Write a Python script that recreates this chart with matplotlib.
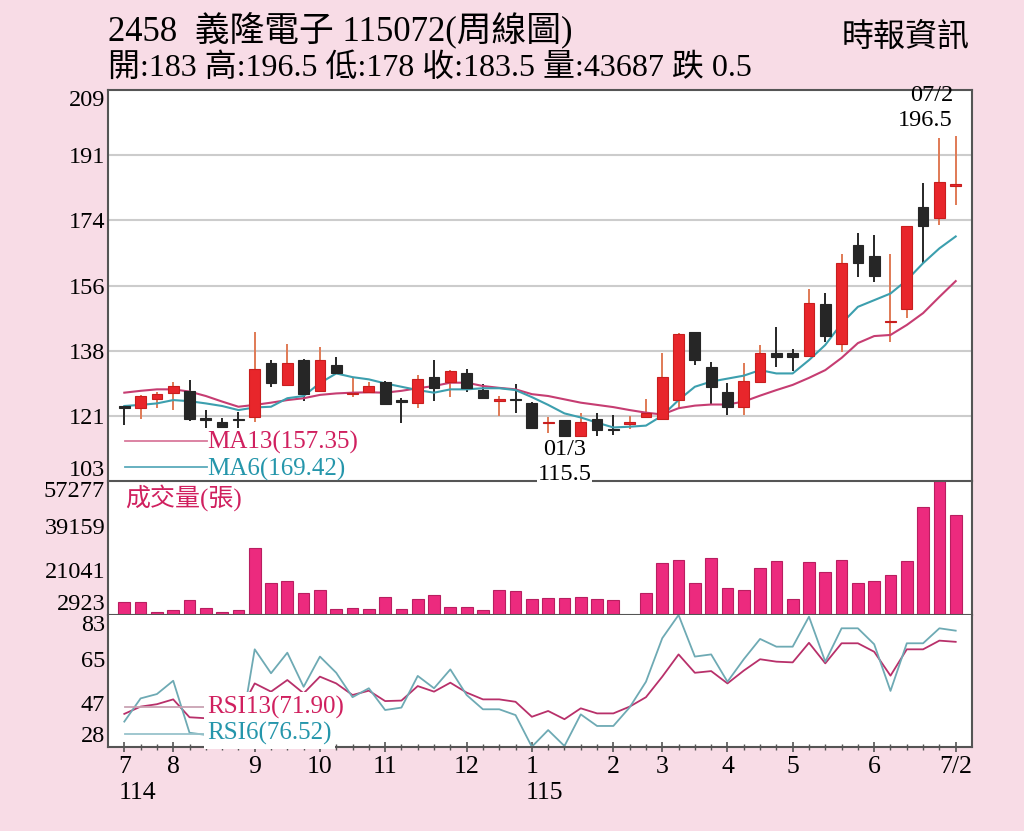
import numpy as np
import matplotlib
matplotlib.use('Agg')
import matplotlib.pyplot as plt

plt.rcParams['font.family'] = ['Liberation Serif', 'Noto Sans CJK TC']

# weekly candles (114/07 .. 115/07 week 2)
opens = [123.5, 123.1, 125.6, 127.0, 127.6, 120.2, 119.4, 120.0, 120.7, 135.1,
         129.3, 136.0, 127.6, 134.7, 126.8, 127.5, 130.0, 125.3, 124.5, 131.5,
         130.0, 132.6, 127.9, 125.0, 125.5, 124.4, 119.0, 119.8, 115.6, 120.0,
         117.2, 118.8, 120.5, 120.1, 125.2, 143.7, 134.1, 127.5, 123.4, 130.2,
         137.8, 137.8, 137.1, 151.2, 140.4, 167.1, 164.1, 146.2, 149.7, 177.3,
         174.3, 183.0]
highs = [123.7, 126.5, 127.5, 130.1, 130.6, 122.5, 120.3, 122.1, 143.7, 136.0,
         140.4, 136.2, 139.6, 136.8, 131.2, 130.2, 130.3, 125.7, 132.0, 136.0,
         133.3, 133.5, 129.5, 126.3, 129.5, 124.7, 120.5, 119.8, 121.6, 121.6,
         121.2, 120.8, 125.4, 138.0, 143.4, 143.7, 135.6, 129.9, 135.1, 140.1,
         145.0, 138.9, 155.1, 154.1, 164.7, 170.3, 169.8, 164.7, 172.2, 183.9,
         196.0, 196.5]
lows = [118.5, 120.0, 123.0, 122.5, 119.6, 117.6, 117.6, 117.6, 119.4, 128.8,
        129.3, 125.0, 127.5, 132.4, 126.0, 127.2, 124.1, 118.9, 123.0, 125.0,
        126.1, 127.5, 125.5, 120.9, 121.8, 117.6, 116.2, 115.5, 115.6, 115.6,
        115.7, 117.3, 120.5, 120.1, 123.0, 134.7, 123.9, 121.2, 121.2, 130.2,
        134.1, 133.1, 137.1, 141.0, 138.3, 158.5, 157.0, 141.0, 147.3, 162.3,
        172.5, 178.0]
closes = [123.1, 126.3, 126.8, 129.0, 120.0, 119.9, 118.0, 119.7, 133.5, 129.7,
          135.3, 126.8, 136.0, 132.6, 127.2, 129.0, 124.1, 124.8, 130.9, 128.5,
          133.1, 128.5, 125.7, 125.3, 125.1, 117.6, 119.3, 115.5, 119.4, 117.1,
          117.0, 119.1, 121.8, 131.4, 143.1, 136.0, 128.7, 123.4, 130.4, 138.0,
          136.8, 136.8, 151.5, 142.6, 162.2, 162.3, 158.8, 146.5, 172.2, 172.2,
          184.2, 183.5]

ma13 = [127.2, 127.7, 128.1, 128.1, 127.5, 126.3, 124.8, 123.4, 123.9, 124.5,
        125.2, 125.7, 126.6, 127.0, 127.2, 127.3, 127.2, 127.7, 128.4, 129.0,
        129.9, 129.9, 129.0, 128.5, 128.1, 126.8, 126.3, 125.4, 124.5, 123.9,
        123.3, 122.5, 121.8, 121.3, 123.0, 123.7, 124.0, 124.0, 124.8, 126.4,
        127.9, 129.3, 131.2, 133.3, 136.6, 140.6, 142.5, 142.8, 145.5, 148.7,
        153.1, 157.35]
ma6 = [123.6, 123.9, 124.3, 125.2, 124.9, 124.3, 123.6, 122.5, 123.2, 123.4,
       125.7, 126.3, 129.8, 132.4, 131.4, 130.8, 129.7, 128.8, 127.9, 127.2,
       128.1, 128.1, 128.4, 128.4, 127.9, 126.0, 123.9, 121.6, 120.5, 119.1,
       117.8, 118.0, 118.3, 121.0, 125.2, 128.8, 130.2, 131.0, 131.8, 133.3,
       132.4, 132.4, 136.0, 140.1, 145.9, 150.4, 152.2, 154.0, 157.6, 162.2,
       166.2, 169.42]

volume = [8196, 8196, 4262, 4830, 9007, 5884, 4262, 5073, 30220, 15781,
          16835, 11846, 12942, 5235, 5884, 5356, 10224, 5478, 9534, 11157,
          6168, 6168, 4951, 12942, 12536, 9413, 9940, 9818, 10346, 9413,
          8886, 2923, 11846, 24014, 25353, 15902, 26042, 13996, 13185, 21987,
          24705, 9534, 24420, 20243, 25353, 15902, 16713, 19269, 24705, 46728,
          57277, 43687]

rsi13 = [42.1, 45.1, 46.1, 48.1, 40.7, 40.3, 40.5, 42.0, 54.7, 51.3,
         56.1, 50.6, 57.5, 54.7, 49.9, 51.7, 47.4, 47.6, 53.6, 51.3,
         55.0, 50.9, 48.1, 48.1, 47.1, 40.9, 43.3, 39.9, 44.4, 42.3,
         42.3, 45.1, 49.0, 57.5, 66.7, 59.1, 59.8, 54.7, 60.0, 64.7,
         63.7, 63.4, 71.5, 63.0, 71.3, 71.3, 67.8, 57.9, 68.8, 68.8,
         72.4, 71.90]
rsi6 = [38.9, 48.5, 50.3, 55.8, 34.3, 33.4, 30.0, 28.5, 68.8, 58.9,
        67.4, 53.3, 65.8, 59.1, 49.0, 52.7, 43.7, 44.7, 57.8, 52.7,
        60.5, 49.9, 44.0, 44.0, 41.6, 28.5, 35.4, 28.8, 41.9, 37.1,
        37.1, 44.8, 55.4, 73.4, 83.0, 65.8, 66.7, 55.4, 64.7, 73.1,
        69.9, 69.9, 82.3, 63.7, 77.5, 77.5, 70.9, 51.6, 71.3, 71.3,
        77.5, 76.52]

month_pos = [0, 3, 8, 12, 16, 21, 25, 30, 33, 37, 41, 46, 51]
month_labels = ['7', '8', '9', '10', '11', '12', '1', '2', '3', '4', '5', '6', '7/2']
year_pos = [0, 25]
year_labels = ['114', '115']

price_labels = ['103', '121', '138', '156', '174', '191', '209']
vol_labels = ['2923', '21041', '39159', '57277']
rsi_labels = ['28', '47', '65', '83']

pink = '#f8dce6'
red = '#e8262b'
black = '#262626'
ma13_c = '#c63d72'
ma6_c = '#3c9fae'
label_red = '#d0205f'
label_teal = '#2596ab'

x = np.arange(len(opens))
o = np.array(opens)
c = np.array(closes)
up = c >= o

fig = plt.figure(figsize=(10.24, 8.31), dpi=100, facecolor=pink)
L, W = 108 / 1024, 864 / 1024
ax1 = fig.add_axes([L, 350 / 831, W, 391 / 831])
ax2 = fig.add_axes([L, 216 / 831, W, 134 / 831])
ax3 = fig.add_axes([L, 84 / 831, W, 132 / 831])
ax1.set_zorder(5)

for ax in (ax1, ax2, ax3):
    ax.set_xlim(-1, 52)
    ax.set_facecolor('white')
    for s in ax.spines.values():
        s.set_color('#555555')
        s.set_linewidth(1.5)
    ax.tick_params(axis='y', length=0, pad=2, labelsize=17.5)
ax2.spines['top'].set_visible(False)
ax3.spines['top'].set_visible(False)
ax1.set_xticks([])
ax2.set_xticks([])


def set_axis_labels(ax, lo, hi, labels):
    ticks = np.linspace(lo, hi, len(labels))
    ax.set_ylim(lo, hi)
    ax.set_yticks(ticks, labels)
    tl = ax.get_yticklabels()
    tl[0].set_va('bottom')
    tl[-1].set_va('top')
    return ticks


# price panel
pt = set_axis_labels(ax1, 103.33, 209.0, price_labels)
for t in pt[1:-1]:
    ax1.axhline(t, color='#cccccc', lw=1.5, zorder=0)

wick_cols = np.where(up, '#e07a55', black)
body_cols = np.where(up, red, black)
ax1.vlines(x, lows, highs, colors=wick_cols, lw=1.4, zorder=2)
ax1.bar(x, np.maximum(np.abs(c - o), 0.4), bottom=np.minimum(o, c), width=0.66,
        color=body_cols, edgecolor=np.where(up, '#c81e1e', black), lw=0.8, zorder=3)
ax1.plot(x, ma13, color=ma13_c, lw=1.5, zorder=2.5)
ax1.plot(x, ma6, color=ma6_c, lw=1.5, zorder=2.5)

ax1.plot([0.0197, 0.1146], [0.102, 0.102], transform=ax1.transAxes, color='#d97a9c', lw=1.3)
ax1.plot([0.0197, 0.1146], [0.036, 0.036], transform=ax1.transAxes, color='#5aaabb', lw=1.3)
ax1.text(0.1146, 0.098, 'MA13(157.35)', transform=ax1.transAxes, color=label_red,
         size=18, va='center', ha='left')
ax1.text(0.1146, 0.030, 'MA6(169.42)', transform=ax1.transAxes, color=label_teal,
         size=18, va='center', ha='left')

i_lo = int(np.argmin(lows))
i_hi = int(np.argmax(highs))
ax1.annotate('01/3', xy=(i_lo, lows[i_lo]), xytext=(0, -9.5), textcoords='offset points',
             ha='center', va='center', size=17.5, zorder=10)
ax1.annotate('%.1f' % lows[i_lo], xy=(i_lo, lows[i_lo]), xytext=(0, -28),
             textcoords='offset points', ha='center', va='center', size=17.5, zorder=10,
             bbox=dict(facecolor='white', edgecolor='none', pad=0.5), annotation_clip=False)
ax1.annotate('07/2', xy=(i_hi, highs[i_hi]), xytext=(-2, 29), textcoords='offset points',
             ha='right', va='center', size=17.5, zorder=10)
ax1.annotate('%.1f' % highs[i_hi], xy=(i_hi, highs[i_hi]), xytext=(-2, 11),
             textcoords='offset points', ha='right', va='center', size=17.5, zorder=10)

# volume panel
set_axis_labels(ax2, 2923, 57277, vol_labels)
ax2.bar(x, volume, width=0.72, color='#ec2a7e', edgecolor='#b81f60', lw=0.8)
ax2.text(0.0197, 0.873, '成交量(張)', transform=ax2.transAxes, color=label_red,
         size=18, va='center', ha='left')

# RSI panel
set_axis_labels(ax3, 28.4, 83.0, rsi_labels)
ax3.plot(x, rsi13, color='#b8306a', lw=1.3, zorder=2)
ax3.plot(x, rsi6, color='#6eaab4', lw=1.3, zorder=2)
ax3.plot([0.0197, 0.1146], [0.303, 0.303], transform=ax3.transAxes, color='#c9a3b3', lw=1.3)
ax3.plot([0.0197, 0.1146], [0.098, 0.098], transform=ax3.transAxes, color='#97c3cb', lw=1.3)
ax3.text(0.1146, 0.30, 'RSI13(71.90)', transform=ax3.transAxes, color=label_red, size=18,
         va='center', ha='left', zorder=5,
         bbox=dict(facecolor='white', edgecolor='none', pad=2.5))
ax3.text(0.1146, 0.10, 'RSI6(76.52)', transform=ax3.transAxes, color=label_teal, size=18,
         va='center', ha='left', zorder=5,
         bbox=dict(facecolor='white', edgecolor='none', pad=2.5))

ax3.set_xticks(x, minor=True)
ax3.set_xticks(month_pos, [''] * len(month_pos))
ax3.tick_params(axis='x', which='minor', direction='inout', length=5, width=1, color='#555555')
ax3.tick_params(axis='x', which='major', direction='inout', length=7, width=1.2, color='#555555')
xt = ax3.get_xaxis_transform()
for p, lab in zip(month_pos, month_labels):
    ax3.text(p, -0.152, lab, transform=xt, ha='center', va='center', size=18.5)
for p, lab in zip(year_pos, year_labels):
    ax3.text(p - 0.35, -0.35, lab, transform=xt, ha='left', va='center', size=18.5)

# header
fig.text(L, 1 - 31 / 831, '2458  義隆電子 115072(周線圖)', size=25, ha='left', va='center')
fig.text(L, 1 - 68 / 831, '開:183 高:196.5 低:178 收:183.5 量:43687 跌 0.5', size=23,
         ha='left', va='center')
fig.text(970 / 1024, 1 - 38 / 831, '時報資訊', size=23, ha='right', va='center')

fig.savefig('out.png', dpi=100, facecolor=pink)
